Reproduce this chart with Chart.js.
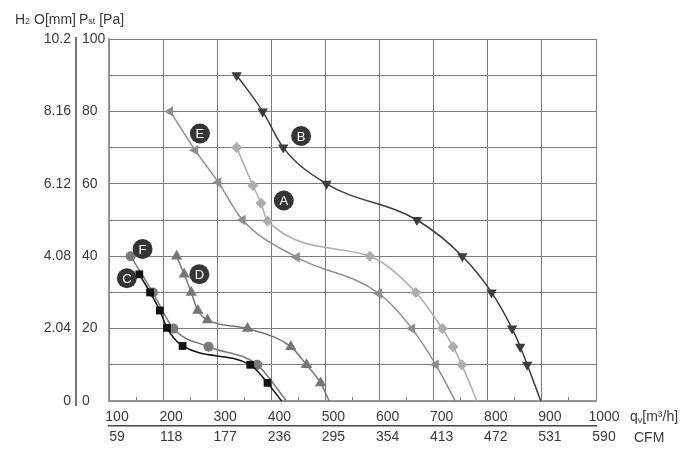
<!DOCTYPE html>
<html>
<head>
  <title>Fan curves</title>
  <script src="https://cdn.jsdelivr.net/npm/chart.js"></script>
  <style>
    body { margin: 0; background: white; }
    #wrap { width: 700px; height: 456px; }
  </style>
</head>
<body>
  <div id="wrap"><canvas id="fanChart" width="700" height="456"></canvas></div>

  <script>
    // tick labels
    const qvLabels = [100, 200, 300, 400, 500, 600, 700, 800, 900, 1000];
    const cfmLabels = [59, 118, 177, 236, 295, 354, 413, 472, 531, 590];
    const paLabels = [0, 20, 40, 60, 80, 100];
    const h2oLabels = ['0', '2.04', '4.08', '6.12', '8.16', '10.2'];

    // curve A (light diamonds)
    const qvA = [336, 366, 381, 393, 582, 667, 716, 736, 752, 780];
    const pA = [70, 59.5, 54.6, 49.7, 40, 30, 20, 15, 10, 0];
    // curve B (dark down triangles)
    const qvB = [336, 384, 422, 502, 669, 753, 807, 845, 860, 873, 898];
    const pB = [90, 80, 70, 60, 50, 40, 30, 20, 15, 10, 0];
    // curve C (black squares)
    const qvC = [156, 176, 194, 207, 236, 361, 393, 419];
    const pC = [35, 30, 25, 20.2, 15.2, 10, 5, 0];
    // curve D (up triangles)
    const qvD = [225, 239, 252, 264, 282, 356, 436, 465, 491, 507];
    const pD = [40, 35, 30, 25, 22.4, 20, 15, 10, 5, 0];
    // curve E (left triangles)
    const qvE = [213, 259, 302, 347, 447, 599, 660, 704, 740];
    const pE = [80, 69.3, 60.4, 50, 39.7, 29.7, 20, 10, 0];
    // curve F (circles)
    const qvF = [140, 181, 219, 284, 374, 428];
    const pF = [40, 30, 20, 15, 10, 0];

    // letter tags on the curves
    const tagNames = ['A', 'B', 'C', 'D', 'E', 'F'];
    const tagQv = [423, 455, 133, 267, 268, 162];
    const tagP = [55.4, 73.2, 33.9, 35, 73.9, 42];

    const FONT = '"Liberation Sans", Arial, sans-serif';
    const TEXT = '#3a3a3a';
    const GRID = '#7c7c7c';

    function toPoints(xs, ys) {
      return xs.map((x, i) => ({ x: x, y: ys[i] }));
    }

    function makeCurve(name, xs, ys, color, style, rotation, radius) {
      return {
        label: name,
        data: toPoints(xs, ys),
        showLine: true,
        borderColor: color,
        borderWidth: 1.5,
        backgroundColor: color,
        cubicInterpolationMode: 'monotone',
        pointStyle: style,
        pointRotation: rotation,
        pointBackgroundColor: color,
        pointBorderColor: color,
        pointBorderWidth: 0,
        pointRadius: (ctx) => (ctx.raw && ctx.raw.y === 0 ? 0 : radius),
        order: 1
      };
    }

    const tagDataset = {
      label: 'tags',
      data: toPoints(tagQv, tagP),
      showLine: false,
      pointStyle: 'circle',
      pointRadius: 10,
      pointBackgroundColor: '#353535',
      pointBorderColor: '#353535',
      pointBorderWidth: 0,
      order: 0
    };

    const textPlugin = {
      id: 'textPlugin',
      afterDatasetsDraw(chart) {
        const ctx = chart.ctx;
        // letters in the tags
        const meta = chart.getDatasetMeta(0);
        ctx.save();
        ctx.fillStyle = 'white';
        ctx.font = '13px ' + FONT;
        ctx.textAlign = 'center';
        ctx.textBaseline = 'middle';
        meta.data.forEach((pt, i) => {
          ctx.fillText(tagNames[i], pt.x, pt.y + 1);
        });
        ctx.restore();
      },
      afterDraw(chart) {
        const ctx = chart.ctx;
        const y = chart.scales.y;
        const x = chart.scales.x;
        ctx.save();
        // separator between the two left label columns
        ctx.strokeStyle = '#444';
        ctx.lineWidth = 1.5;
        ctx.beginPath();
        ctx.moveTo(y.left - 6, y.top - 2);
        ctx.lineTo(y.left - 6, y.bottom + 5);
        ctx.stroke();

        ctx.fillStyle = TEXT;
        ctx.textBaseline = 'alphabetic';
        ctx.textAlign = 'left';
        function run(parts, px, py) {
          parts.forEach(p => {
            ctx.font = p[1] + 'px ' + FONT;
            ctx.fillText(p[0], px, py + (p[2] || 0));
            px += ctx.measureText(p[0]).width;
          });
        }
        // header
        run([['H', 14], ['2', 9], [' O[mm]', 14]], 15, 24);
        run([['P', 14], ['st', 9], [' [Pa]', 14]], 79, 24);
        // x axis titles
        run([['q', 14], ['v', 9, 2], ['[m\u00b3/h]', 14]], x.right + 34, 421);
        run([['CFM', 14]], x.right + 38, 442);
        ctx.restore();
      }
    };

    const chart = new Chart(document.getElementById('fanChart'), {
      type: 'scatter',
      data: {
        datasets: [
          tagDataset,
          makeCurve('A', qvA, pA, '#adadad', 'rectRot', 0, 5.5),
          makeCurve('B', qvB, pB, '#3d3d3d', 'triangle', 180, 6),
          makeCurve('C', qvC, pC, '#111111', 'rect', 0, 5.5),
          makeCurve('D', qvD, pD, '#767676', 'triangle', 0, 6.5),
          makeCurve('E', qvE, pE, '#8e8e8e', 'triangle', 270, 6),
          makeCurve('F', qvF, pF, '#7a7a7a', 'circle', 0, 5)
        ]
      },
      options: {
        responsive: false,
        animation: false,
        layout: { padding: { top: 39, right: 104, bottom: 0, left: 0 } },
        plugins: {
          legend: { display: false },
          tooltip: { enabled: false }
        },
        scales: {
          x: {
            type: 'linear',
            position: 'bottom',
            weight: 1,
            min: 100,
            max: 1000,
            afterFit: (s) => { s.height = 25; },
            grid: {
              color: (c) => (c.tick && c.tick.value % 100 === 0 ? GRID : 'rgba(0,0,0,0)'),
              lineWidth: 1,
              drawTicks: true,
              tickLength: -4,
              tickColor: GRID
            },
            border: { display: true, color: '#999', width: 1.5 },
            ticks: {
              stepSize: 50,
              autoSkip: false,
              maxRotation: 0,
              padding: 12,
              labelOffset: 8,
              color: TEXT,
              font: { family: FONT, size: 14 },
              callback: (v) => (v % 100 === 0 ? String(qvLabels[(v - 100) / 100]) : '')
            }
          },
          x2: {
            type: 'linear',
            position: 'bottom',
            weight: 2,
            min: 100,
            max: 1000,
            afterFit: (s) => { s.height = 30; },
            grid: { display: false, drawTicks: false },
            border: { display: true, color: '#444', width: 1.5 },
            ticks: {
              stepSize: 100,
              autoSkip: false,
              maxRotation: 0,
              padding: 3,
              labelOffset: 8,
              color: TEXT,
              font: { family: FONT, size: 14 },
              callback: (v) => String(cfmLabels[Math.round((v - 100) / 100)])
            }
          },
          y: {
            type: 'linear',
            position: 'left',
            weight: 1,
            min: 0,
            max: 100,
            afterFit: (s) => { s.width = 27; },
            grid: { color: GRID, lineWidth: 1, drawTicks: false },
            border: { display: true, color: '#999', width: 1.5 },
            ticks: {
              stepSize: 10,
              autoSkip: false,
              crossAlign: 'far',
              padding: 0,
              color: TEXT,
              font: { family: FONT, size: 14 },
              callback: (v) => (v % 20 === 0 ? String(paLabels[v / 20]) : '')
            }
          },
          y2: {
            type: 'linear',
            position: 'left',
            weight: 2,
            min: 0,
            max: 100,
            afterFit: (s) => { s.width = 82; },
            grid: { display: false, drawTicks: false },
            border: { display: false },
            ticks: {
              stepSize: 20,
              autoSkip: false,
              padding: 11,
              color: TEXT,
              font: { family: FONT, size: 14 },
              callback: (v) => h2oLabels[Math.round(v / 20)]
            }
          }
        }
      },
      plugins: [textPlugin]
    });
  </script>
</body>
</html>
